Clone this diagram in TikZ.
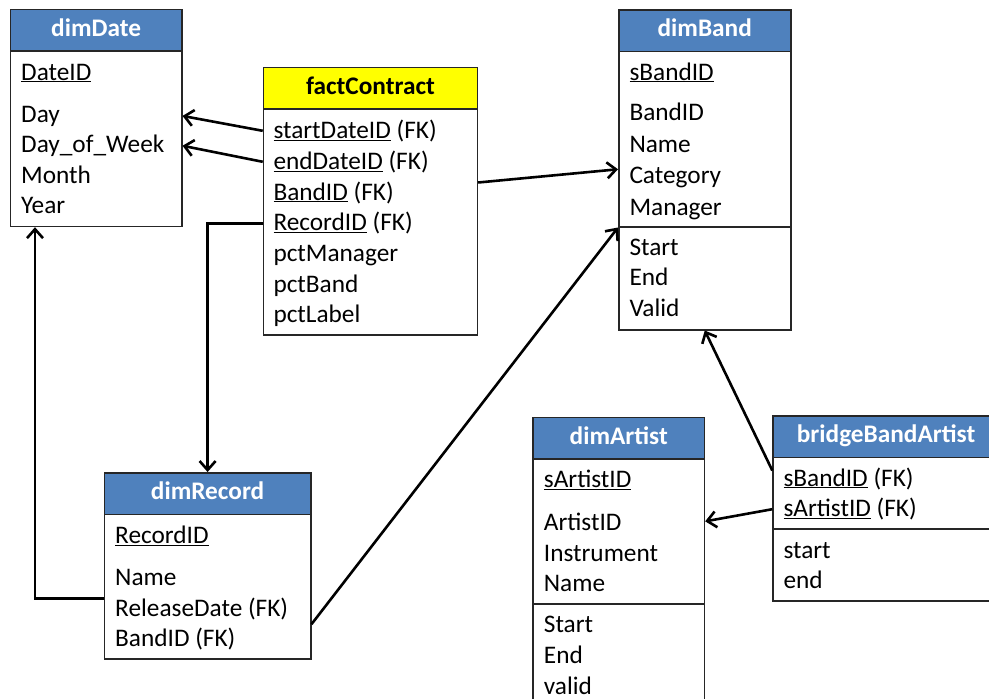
\documentclass[tikz,border=0pt]{standalone}
\usepackage{fontspec}
\setmainfont{Carlito}
\usetikzlibrary{arrows.meta,calc}
\definecolor{hdrblue}{HTML}{4F81BD}
\definecolor{factyellow}{HTML}{FFFF00}

\begin{document}
\begin{tikzpicture}[x=1pt,y=-1pt,
  every node/.style={font=\fontsize{25.3}{30}\selectfont},
  hdr/.style={draw=black!85,line width=1.5pt,fill=hdrblue,text=white,font=\fontsize{25.3}{30}\selectfont\bfseries,anchor=north west,minimum height=41.7pt,text height=15pt,text depth=3pt,inner sep=0pt},
  tbl/.style={draw=black!85,line width=1.5pt,fill=white,anchor=north west,inner sep=0pt},
  fld/.style={anchor=base west,inner sep=0pt},
  fk/.style={line width=2.6pt,-{Straight Barb[length=9pt,width=16pt]}}]
  \useasboundingbox (0,0) rectangle (989,699);
  \clip (0,0) rectangle (989,699);

  % dimDate
  \node[hdr,minimum width=171.3pt] (date) at (9.7,8.7) {dimDate};
  \node[tbl,minimum width=171.3pt,minimum height=175pt] (dateb) at (9.7,50.7) {};
  \node[fld] (d-id) at (21,80) {\underline{DateID}};
  \node[fld] (d-day) at (21,122) {Day};
  \node[fld] (d-dow) at (21,152.5) {Day\_of\_Week};
  \node[fld] (d-mon) at (21,183) {Month};
  \node[fld] (d-year) at (21,213.5) {Year};

  % factContract
  \node[hdr,fill=factyellow,text=black,minimum width=214pt] (fact) at (262.7,66.7) {factContract};
  \node[tbl,minimum width=214pt,minimum height=226pt] (factb) at (262.7,108.3) {};
  \node[fld] (f-start) at (273.3,138.3) {\underline{startDateID} (FK)};
  \node[fld] (f-end) at (273.3,169.3) {\underline{endDateID} (FK)};
  \node[fld] (f-band) at (273.3,200) {\underline{BandID} (FK)};
  \node[fld] (f-rec) at (273.3,230.7) {\underline{RecordID} (FK)};
  \node[fld] (f-man) at (273.3,261.7) {pctManager};
  \node[fld] (f-pband) at (273.3,292.3) {pctBand};
  \node[fld] (f-label) at (273.3,322.7) {pctLabel};

  % dimBand
  \node[hdr,minimum width=172pt] (band) at (618,9) {dimBand};
  \node[tbl,minimum width=172pt,minimum height=175.3pt] (bandb) at (618,50.7) {};
  \node[tbl,minimum width=172pt,minimum height=103pt] (bandc) at (618,226) {};
  \node[fld] (b-sid) at (629.3,80) {\underline{sBandID}};
  \node[fld] (b-id) at (629.3,120.7) {BandID};
  \node[fld] (b-name) at (629.3,152.7) {Name};
  \node[fld] (b-cat) at (629.3,183.3) {Category};
  \node[fld] (b-man) at (629.3,215) {Manager};
  \node[fld] (b-start) at (629.3,255) {Start};
  \node[fld] (b-end) at (629.3,285.7) {End};
  \node[fld] (b-valid) at (629.3,316.7) {Valid};

  % dimRecord
  \node[hdr,minimum width=206.3pt] (rec) at (103.7,472) {dimRecord};
  \node[tbl,minimum width=206.3pt,minimum height=144.3pt] (recb) at (103.7,513.7) {};
  \node[fld] (r-id) at (115,543.3) {\underline{RecordID}};
  \node[fld] (r-name) at (115,585) {Name};
  \node[fld] (r-date) at (115,616) {ReleaseDate (FK)};
  \node[fld] (r-band) at (115,646.7) {BandID (FK)};

  % dimArtist
  \node[hdr,minimum width=171.4pt] (art) at (532.3,416.7) {dimArtist};
  \node[tbl,minimum width=171.4pt,minimum height=145pt] (artb) at (532.3,458.3) {};
  \node[tbl,minimum width=171.4pt,minimum height=130pt] (artc) at (532.3,603.3) {};
  \node[fld] (a-sid) at (543.7,487.7) {\underline{sArtistID}};
  \node[fld] (a-aid) at (543.7,530) {ArtistID};
  \node[fld] (a-ins) at (543.7,561) {Instrument};
  \node[fld] (a-name) at (543.7,591.7) {Name};
  \node[fld] (a-start) at (543.7,632.7) {Start};
  \node[fld] (a-end) at (543.7,663.3) {End};
  \node[fld] (a-valid) at (543.7,694) {valid};

  % bridgeBandArtist
  \node[hdr,minimum width=226pt] (bridge) at (772.3,415) {bridgeBandArtist};
  \node[tbl,minimum width=226pt,minimum height=71.6pt] (bridgeb) at (772.3,456.7) {};
  \node[tbl,minimum width=226pt,minimum height=71.7pt] (bridgec) at (772.3,528.3) {};
  \node[fld] (g-sband) at (783.3,486) {\underline{sBandID} (FK)};
  \node[fld] (g-sart) at (783.3,516.7) {\underline{sArtistID} (FK)};
  \node[fld] (g-start) at (783.3,558.3) {start};
  \node[fld] (g-end) at (783.3,588.3) {end};

  % foreign keys
  \draw[fk] (factb.west |- f-start) -- (dateb.east |- d-day);
  \draw[fk] (factb.west |- f-end) -- (dateb.east |- d-dow);
  \draw[fk] ($(factb.east |- f-band)+(0,-10)$) -- ($(bandb.west |- b-cat)+(0,-8)$);
  \draw[fk] (factb.west |- f-rec) -| (rec.north);
  \draw[fk] ($(recb.west |- r-date)+(0,-10)$) -| ($(dateb.south west)+(25.3,0)$);
  \draw[fk] ($(recb.east |- r-band)+(0,-15)$) -- (bandb.south west);
  \draw[fk] ($(bridgeb.west |- g-sband)+(0,-8)$) -- (bandc.south);
  \draw[fk] (bridgeb.west |- g-sart) -- (artb.east |- a-aid);
\end{tikzpicture}
\end{document}
